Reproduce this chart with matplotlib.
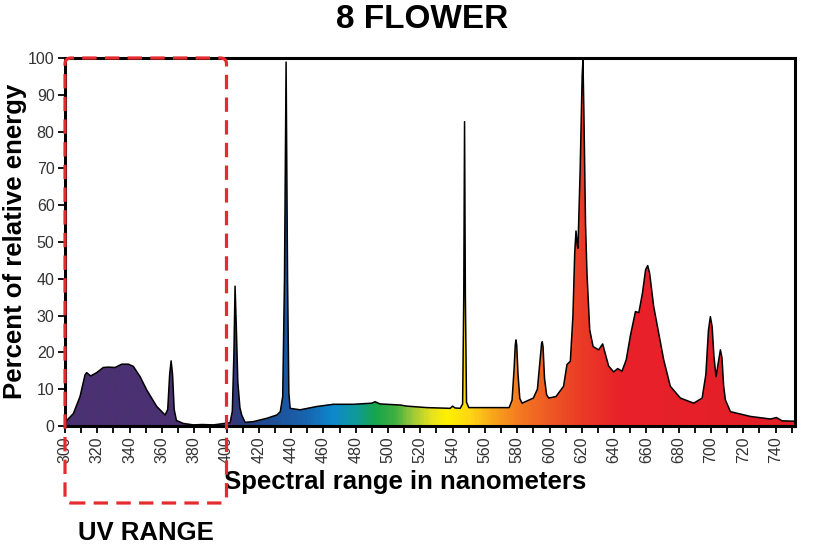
import numpy as np
import matplotlib.pyplot as plt
from matplotlib.colors import LinearSegmentedColormap, Normalize
from matplotlib.patches import Polygon, FancyBboxPatch
from matplotlib.transforms import IdentityTransform

plt.rcParams['font.family'] = ['Liberation Sans', 'DejaVu Sans']

# spectrum (nm, percent)
wavelength = [300, 305.2, 309.3, 312.4, 313.4, 315.9, 319.6, 323.7, 326.8, 331, 335.1,
              339.3, 342.3, 346.5, 350.6, 356.8, 362, 363.6, 364.8, 365.7, 366.6, 367.6,
              369, 373.2, 379.5, 385, 391.9, 399.1, 402.2, 403.6, 404.6, 405.3, 406.0,
              407.0, 408.3, 409.4, 411.5, 416.7, 425, 431.2, 433.3, 434.8, 435.9, 436.9,
              437.8, 438.6, 439.4, 445.6, 455.9, 466.2, 478.6, 490, 492, 495, 507.6,
              511.7, 524, 538.5, 540, 541.5, 544.7, 546.2, 546.9, 547.4, 547.9, 548.6,
              550, 575, 576.8, 578.0, 578.8, 579.2, 579.7, 580.5, 581.6, 583, 590,
              592.5, 594.2, 595.1, 595.5, 596.0, 596.9, 598.2, 599.5, 604, 608.7,
              610.8, 612.9, 614.5, 615.6, 616.4, 617.2, 617.6, 619.0, 620.2, 620.7,
              621.3, 622.3, 623.2, 624.9, 627, 630.4, 632.9, 636.6, 639.7, 642.2,
              644.9, 647.5, 650.1, 653.2, 655.3, 657.5, 659.5, 660.8, 662.0, 664.5,
              667.6, 670.7, 674.8, 681, 689.3, 694.5, 696.8, 698.4, 699.6, 700.7,
              701.8, 703.1, 704.4, 705.8, 706.8, 707.8, 708.9, 712, 724.4, 736.8,
              740.5, 744, 752]
energy = [1.0, 3.4, 8.0, 13.9, 14.5, 13.6, 14.5, 15.9, 16.0, 15.9, 16.8,
          16.8, 16.2, 13.4, 9.8, 5.3, 3.0, 4.5, 14.0, 17.7, 14.0, 4.5,
          1.5, 0.7, 0.3, 0.4, 0.3, 0.7, 0.9, 4.0, 20.0, 38.0, 28.0,
          12.0, 5.0, 3.0, 1.0, 1.2, 2.1, 3.0, 3.9, 8.0, 40.0, 98.9,
          40.0, 9.0, 4.8, 4.4, 5.3, 5.9, 5.9, 6.2, 6.6, 6.0, 5.7,
          5.4, 5.0, 4.8, 5.4, 4.9, 4.8, 6.0, 35.0, 82.7, 35.0, 6.5,
          5.0, 5.0, 7.0, 15.0, 22.0, 23.4, 22.0, 14.0, 7.5, 6.2, 7.6,
          10.0, 18.0, 22.5, 22.9, 21.5, 13.0, 8.5, 7.6, 8.0, 10.8,
          16.7, 17.6, 30.0, 47.0, 53.0, 49.0, 48.3, 70.0, 95.0, 99.5,
          85.0, 55.0, 41.5, 26.1, 21.6, 20.7, 22.3, 16.3, 14.7, 15.6,
          14.9, 18.0, 24.6, 31.1, 30.8, 36.0, 42.5, 43.6, 41.5, 32.5,
          25.2, 18.0, 10.8, 7.6, 6.2, 7.6, 14.0, 26.0, 29.7, 27.0,
          19.0, 13.4, 17.0, 20.7, 18.5, 11.0, 7.1, 3.9, 2.6, 1.9,
          2.3, 1.4, 1.3]

x_major = np.arange(300, 741, 20)
y_major = np.arange(0, 101, 10)
x_min, x_max = 300, 752

# colour stops along the spectrum
stops = [(300, '#4a3172'), (400, '#4a3172'), (406, '#2c3b7c'), (425, '#1f4c94'),
         (450, '#1766b0'), (466, '#0e88cc'), (480, '#109a9a'), (492, '#17a54c'),
         (505, '#43b040'), (515, '#9cc83a'), (527, '#e6e21e'), (537, '#fff200'),
         (552, '#fdd316'), (566, '#f8a41b'), (582, '#f37821'), (600, '#ee5a24'),
         (620, '#eb3b26'), (645, '#e8212a'), (752, '#e41e26')]
cmap = LinearSegmentedColormap.from_list(
    'spec', [((w - x_min) / (x_max - x_min), c) for w, c in stops])

fig = plt.figure(figsize=(8.2, 5.52), dpi=100)
ax = fig.add_axes([65 / 820, 1 - 426 / 552, 730 / 820, 368 / 552])

verts = list(zip(wavelength, energy)) + [(wavelength[-1], 0), (wavelength[0], 0)]
shape = Polygon(verts, closed=True, facecolor='none', edgecolor='none')
ax.add_patch(shape)
grad = np.linspace(x_min, x_max, 600)[None, :]
img = ax.imshow(grad, extent=[x_min, x_max, 0, 100], aspect='auto', cmap=cmap,
                norm=Normalize(x_min, x_max), origin='lower', zorder=1)
img.set_clip_path(shape)
ax.plot(wavelength, energy, color='black', lw=1.1, zorder=2)

ax.set_xlim(x_min, x_max)
ax.set_ylim(0, 100)
ax.set_xticks(x_major)
ax.set_xticks(np.arange(310, 751, 20), minor=True)
ax.set_yticks(y_major)
ax.set_xticklabels([str(v) for v in x_major], rotation=90)
ax.tick_params(axis='both', which='both', direction='out', length=5, width=1.3,
               labelsize=11.5, labelcolor='#333333', color='black', pad=2.5)
for s in ax.spines.values():
    s.set_linewidth(2.2)
    s.set_zorder(3)

fig.text(422 / 820, 1 - 19 / 552, '8 FLOWER', ha='center', va='center',
         fontsize=24, fontweight='bold')
fig.text(15 / 820, 1 - 241 / 552, 'Percent of relative energy', ha='center',
         va='center', rotation=90, fontsize=18.5, fontweight='bold')
fig.text(405 / 820, 1 - 482 / 552, 'Spectral range in nanometers', ha='center',
         va='center', fontsize=18.5, fontweight='bold')
fig.text(146 / 820, 1 - 533 / 552, 'UV RANGE', ha='center', va='center',
         fontsize=18.5, fontweight='bold')

# dashed UV box, in pixels
x0, y1 = ax.transData.transform((300, 100))
x1 = ax.transData.transform((400, 0))[0]
y0 = 552 - 503
box = FancyBboxPatch((x0, y0), x1 - x0, y1 - y0,
                     boxstyle='round,pad=0,rounding_size=6',
                     transform=IdentityTransform(), fill=False,
                     edgecolor='#e52b2f', lw=2.3, linestyle=(0, (4.5, 2.6)),
                     zorder=5)
fig.patches.append(box)

fig.savefig('out.png', dpi=100)
